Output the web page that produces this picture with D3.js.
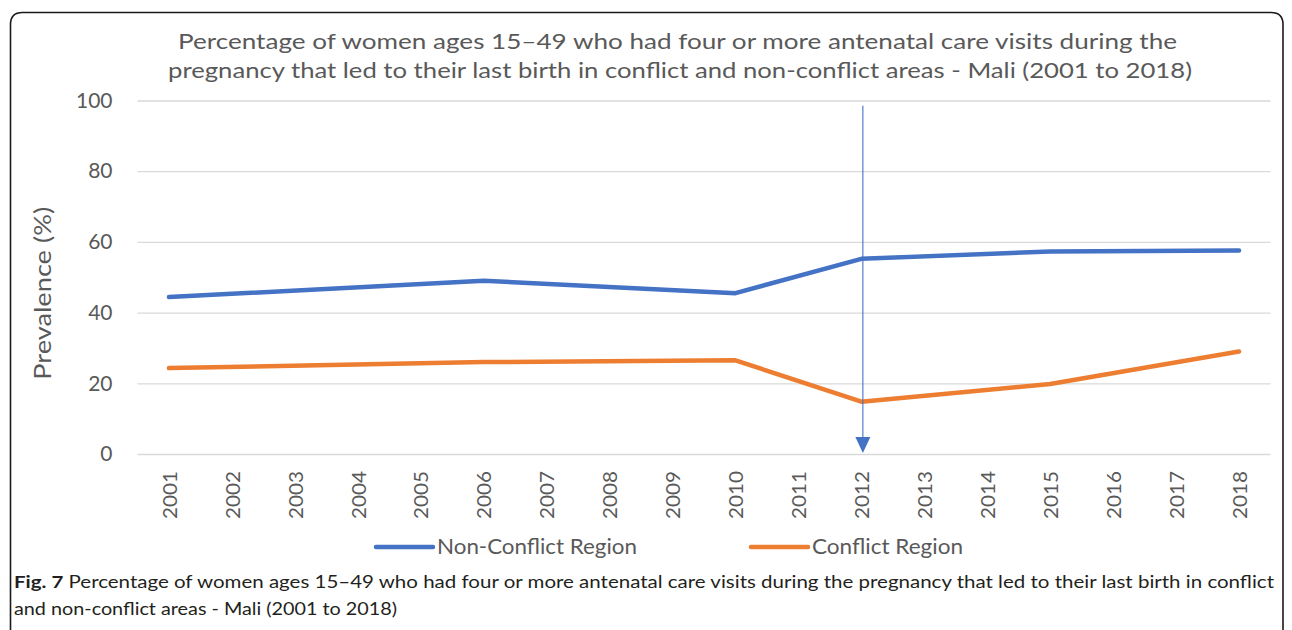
<!DOCTYPE html>
<html>
<head>
<meta charset="utf-8">
<script src="https://cdn.jsdelivr.net/npm/d3@7"></script>
<style>
  html, body { margin: 0; padding: 0; background: #fff; }
  svg { display: block; }
  text { font-family: Lato, "Open Sans", sans-serif; }
</style>
</head>
<body>
<svg id="chart" width="1292" height="630"></svg>
<script>
// Category axis: every year from 2001 to 2018
const years = ["2001","2002","2003","2004","2005","2006","2007","2008","2009",
               "2010","2011","2012","2013","2014","2015","2016","2017","2018"];
// Survey years that carry a value (gaps between them are bridged)
const surveyYears = ["2001","2006","2010","2012","2015","2018"];
const nonConflictValues = [44.4, 49.0, 45.5, 55.2, 57.3, 57.6];
const conflictValues    = [24.3, 26.0, 26.5, 14.8, 19.8, 29.0];
const yTicks = [0, 20, 40, 60, 80, 100];
const markerYear = "2012";

const seriesNames = ["Non-Conflict Region", "Conflict Region"];
const seriesColors = ["#4472C4", "#ED7D31"];

const titleLines = [
  "Percentage of women ages 15\u201349 who had four or more antenatal care visits during the",
  "pregnancy that led to their last birth in conflict and non-conflict areas - Mali (2001 to 2018)"
];
const captionLabel = "Fig. 7";
const captionLines = [
  " Percentage of women ages 15\u201349 who had four or more antenatal care visits during the pregnancy that led to their last birth in conflict",
  "and non-conflict areas - Mali (2001 to 2018)"
];

const svg = d3.select("#chart");
const grey = "#595959";

// Panel frame with rounded top corners
const fx0 = 10.5, fy0 = 12.5, fx1 = 1283, fy1 = 660, r = 12;
svg.append("path")
  .attr("d", `M${fx0},${fy1} L${fx0},${fy0 + r} Q${fx0},${fy0} ${fx0 + r},${fy0} L${fx1 - r},${fy0} Q${fx1},${fy0} ${fx1},${fy0 + r} L${fx1},${fy1}`)
  .attr("fill", "none").attr("stroke", "#1a1a1a").attr("stroke-width", 1.6);

// Scales
const x = d3.scalePoint().domain(years).range([137.5, 1270.5]).padding(0.5);
const y = d3.scaleLinear().domain([0, 100]).range([454, 100.5]);

// Gridlines + y tick labels
const yAxis = svg.append("g")
  .attr("transform", `translate(${x.range()[0]},0)`)
  .call(d3.axisLeft(y).tickValues(yTicks).tickSize(-(x.range()[1] - x.range()[0])).tickPadding(25));
yAxis.select(".domain").remove();
yAxis.selectAll(".tick line").attr("stroke", "#d9d9d9").attr("stroke-width", 1.3);
yAxis.selectAll(".tick text")
  .attr("fill", grey).attr("font-size", 21).attr("font-family", "Lato, sans-serif");

// Year labels, rotated
const xAxis = svg.append("g")
  .attr("transform", `translate(0,${y(0)})`)
  .call(d3.axisBottom(x).tickSize(0).tickPadding(0));
xAxis.select(".domain").remove();
xAxis.selectAll(".tick text")
  .attr("fill", grey).attr("font-size", 20).attr("font-family", "Lato, sans-serif")
  .attr("transform", "rotate(-90)")
  .attr("text-anchor", "end")
  .attr("x", -17).attr("y", 0).attr("dy", "0.36em")
  .attr("textLength", 48).attr("lengthAdjust", "spacingAndGlyphs");

// Y-axis title
svg.append("text")
  .attr("transform", `translate(51,${(y(0) + y(100)) / 2 + 16}) rotate(-90)`)
  .attr("text-anchor", "middle")
  .attr("fill", grey).attr("font-size", 24)
  .attr("textLength", 173).attr("lengthAdjust", "spacingAndGlyphs")
  .text("Prevalence (%)");

// Chart title
const titleTargets = [[178, 1177], [168, 1192]];
titleLines.forEach((t, i) => {
  svg.append("text")
    .attr("x", (titleTargets[i][0] + titleTargets[i][1]) / 2)
    .attr("y", 49 + i * 29)
    .attr("text-anchor", "middle")
    .attr("fill", grey).attr("font-size", 22)
    .attr("textLength", titleTargets[i][1] - titleTargets[i][0])
    .attr("lengthAdjust", "spacingAndGlyphs")
    .text(t);
});

// Series lines
const line = d3.line()
  .x(d => x(d.year))
  .y(d => y(d.value));
[nonConflictValues, conflictValues].forEach((vals, i) => {
  const pts = surveyYears.map((yr, k) => ({ year: yr, value: vals[k] }));
  svg.append("path")
    .datum(pts)
    .attr("d", line)
    .attr("fill", "none")
    .attr("stroke", seriesColors[i])
    .attr("stroke-width", 4.5)
    .attr("stroke-linecap", "round")
    .attr("stroke-linejoin", "round");
});

// Vertical arrow marking 2012
const ax = x(markerYear) + 1.5;
const tipY = y(0) - 1;
svg.append("line")
  .attr("x1", ax).attr("x2", ax)
  .attr("y1", y(98.5)).attr("y2", tipY - 12)
  .attr("stroke", "#4472C4").attr("stroke-width", 1.1);
svg.append("path")
  .attr("d", `M${ax - 7.5},${tipY - 16} L${ax + 7.5},${tipY - 16} L${ax},${tipY} Z`)
  .attr("fill", "#4472C4");

// Legend
const legendItems = [
  { x0: 376, x1: 433, tx: 437, tw: 200 },
  { x0: 751, x1: 808, tx: 812, tw: 151 }
];
legendItems.forEach((it, i) => {
  svg.append("line")
    .attr("x1", it.x0).attr("x2", it.x1)
    .attr("y1", 547).attr("y2", 547)
    .attr("stroke", seriesColors[i]).attr("stroke-width", 4.5)
    .attr("stroke-linecap", "round");
  svg.append("text")
    .attr("x", it.tx).attr("y", 554)
    .attr("fill", grey).attr("font-size", 21)
    .attr("textLength", it.tw).attr("lengthAdjust", "spacingAndGlyphs")
    .text(seriesNames[i]);
});

// Figure caption
const cap1 = svg.append("text")
  .attr("x", 14).attr("y", 588)
  .attr("fill", "#231f20").attr("font-size", 17)
  .attr("textLength", 1260).attr("lengthAdjust", "spacingAndGlyphs");
cap1.append("tspan").attr("font-weight", "bold").text(captionLabel);
cap1.append("tspan").text(captionLines[0]);
svg.append("text")
  .attr("x", 14).attr("y", 615)
  .attr("fill", "#231f20").attr("font-size", 17)
  .attr("textLength", 383).attr("lengthAdjust", "spacingAndGlyphs")
  .text(captionLines[1]);
</script>
</body>
</html>
